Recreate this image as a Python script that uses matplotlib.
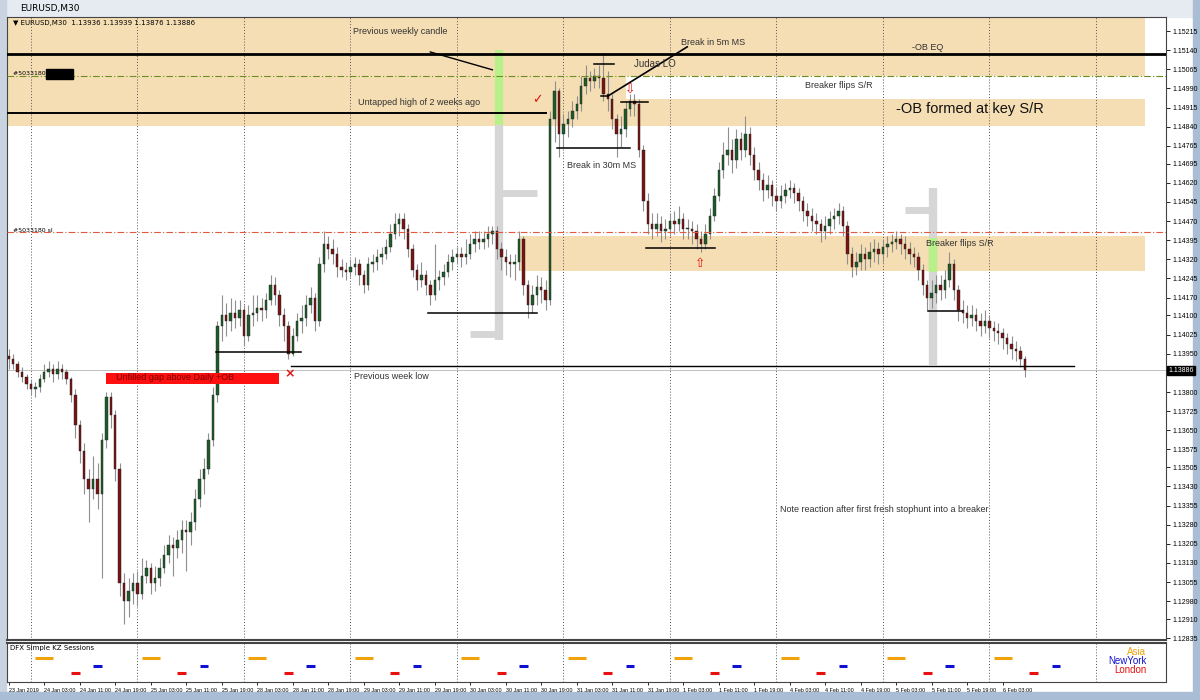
import matplotlib
matplotlib.use('Agg')
import matplotlib.pyplot as plt
from matplotlib.patches import Rectangle

plt.rcParams['font.family'] = ['Liberation Sans', 'DejaVu Sans']

# EURUSD candles, one per hour (23 Jan 19:00 -> 6 Feb 04:00)
first_open = 1.1394
closes = [
    1.1393, 1.1391, 1.1388, 1.1386, 1.1383, 1.1381, 1.1382, 1.1385, 1.1388, 1.1389,
    1.1387, 1.1389, 1.1388, 1.1385, 1.1379, 1.1367, 1.1357, 1.1346, 1.1342, 1.1346,
    1.1340, 1.1361, 1.1378, 1.1371, 1.1350, 1.1305, 1.1298, 1.1302, 1.1305, 1.1301,
    1.1308, 1.1311, 1.1305, 1.1307, 1.1311, 1.1316, 1.1320, 1.1319, 1.1322, 1.1326,
    1.1325, 1.1329, 1.1338, 1.1346, 1.1350, 1.1361, 1.1379, 1.1406, 1.1410, 1.1408,
    1.1411, 1.1409, 1.1412, 1.1402, 1.1410, 1.1411, 1.1413, 1.1412, 1.1416, 1.1422,
    1.1418, 1.1410, 1.1406, 1.1395, 1.1402, 1.1408, 1.1409, 1.1414, 1.1417, 1.1408,
    1.1430, 1.1438, 1.1436, 1.1434, 1.1429, 1.1428, 1.1427, 1.1429, 1.1430, 1.1426,
    1.1422, 1.1430, 1.1431, 1.1433, 1.1434, 1.1437, 1.1442, 1.1446, 1.1448, 1.1444,
    1.1436, 1.1428, 1.1424, 1.1426, 1.1422, 1.1418, 1.1424, 1.1425, 1.1427, 1.1431,
    1.1433, 1.1434, 1.1433, 1.1434, 1.1438, 1.1440, 1.1439, 1.1440, 1.1442, 1.1443,
    1.1436, 1.1433, 1.1431, 1.1430, 1.1431, 1.1440, 1.1422, 1.1414, 1.1418, 1.1421,
    1.1420, 1.1416, 1.1487, 1.1498, 1.1481, 1.1485, 1.1487, 1.1490, 1.1493, 1.1500,
    1.1503, 1.1502, 1.1504, 1.1503, 1.1497, 1.1495, 1.1487, 1.1481, 1.1483, 1.1491,
    1.1494, 1.1493, 1.1475, 1.1455, 1.1446, 1.1444, 1.1446, 1.1443, 1.1444, 1.1447,
    1.1446, 1.1448, 1.1444, 1.1444, 1.1443, 1.1440, 1.1438, 1.1442, 1.1449, 1.1457,
    1.1467, 1.1473, 1.1475, 1.1471, 1.1479, 1.1475, 1.1481, 1.1473, 1.1467, 1.1463,
    1.1459, 1.1461, 1.1457, 1.1455, 1.1457, 1.1459, 1.1460, 1.1458, 1.1455, 1.1451,
    1.1449, 1.1447, 1.1446, 1.1443, 1.1445, 1.1448, 1.1449, 1.1451, 1.1445, 1.1434,
    1.1429, 1.1431, 1.1434, 1.1432, 1.1435, 1.1436, 1.1434, 1.1437, 1.1438, 1.1439,
    1.1440, 1.1438, 1.1436, 1.1434, 1.1433, 1.1428, 1.1422, 1.1417, 1.1419, 1.1422,
    1.1420, 1.1424, 1.1430, 1.1420, 1.1412, 1.1411, 1.1409, 1.1410, 1.1408, 1.1406,
    1.1408, 1.1405, 1.1404, 1.1403, 1.1401, 1.1399, 1.1397, 1.1396, 1.1393, 1.13886,
]
highs = [
    1.1397, 1.1395, 1.1392, 1.1390, 1.1387, 1.1385, 1.1384, 1.1387, 1.1391, 1.1392,
    1.1391, 1.1392, 1.1391, 1.1389, 1.1386, 1.1381, 1.1369, 1.1360, 1.1350, 1.1355,
    1.1352, 1.1364, 1.1380, 1.1380, 1.1373, 1.1352, 1.1309, 1.1307, 1.1309, 1.1310,
    1.1315, 1.1314, 1.1313, 1.1312, 1.1315, 1.1320, 1.1324, 1.1323, 1.1326, 1.1330,
    1.1330, 1.1333, 1.1342, 1.1350, 1.1354, 1.1364, 1.1382, 1.1408, 1.1418, 1.1415,
    1.1417, 1.1416, 1.1416, 1.1414, 1.1414, 1.1418, 1.1418, 1.1417, 1.1419, 1.1426,
    1.1425, 1.1420, 1.1413, 1.1408, 1.1405, 1.1411, 1.1414, 1.1418, 1.1421, 1.1419,
    1.1433, 1.1443, 1.1441, 1.1440, 1.1437, 1.1432, 1.1431, 1.1432, 1.1433, 1.1432,
    1.1428, 1.1433, 1.1434, 1.1436, 1.1437, 1.1440, 1.1446, 1.1450, 1.1450, 1.1450,
    1.1446, 1.1438, 1.1430, 1.1431, 1.1428, 1.1424, 1.1438, 1.1428, 1.1430, 1.1434,
    1.1436, 1.1437, 1.1437, 1.1440, 1.1442, 1.1443, 1.1443, 1.1443, 1.1445, 1.1445,
    1.1445, 1.1439, 1.1436, 1.1434, 1.1434, 1.1443, 1.1441, 1.1424, 1.1422, 1.1426,
    1.1425, 1.1424, 1.1490, 1.1502, 1.1499, 1.1489, 1.1490, 1.1494, 1.1496, 1.1504,
    1.1508, 1.1506, 1.1507, 1.1508, 1.1513, 1.1506, 1.1497, 1.1489, 1.1488, 1.1494,
    1.1497, 1.1497, 1.1495, 1.1477, 1.1458, 1.1450, 1.1450, 1.1449, 1.1448, 1.1450,
    1.1451, 1.1453, 1.1450, 1.1448, 1.1447, 1.1446, 1.1443, 1.1446, 1.1452, 1.1460,
    1.1470, 1.1478, 1.1484, 1.1479, 1.1483, 1.1482, 1.1488, 1.1484, 1.1476, 1.1470,
    1.1466, 1.1465, 1.1463, 1.1460, 1.1461, 1.1462, 1.1463, 1.1462, 1.1460, 1.1457,
    1.1454, 1.1452, 1.1450, 1.1448, 1.1449, 1.1451, 1.1452, 1.1454, 1.1453, 1.1447,
    1.1437, 1.1435, 1.1438, 1.1437, 1.1439, 1.1440, 1.1439, 1.1440, 1.1441, 1.1442,
    1.1443, 1.1442, 1.1441, 1.1439, 1.1437, 1.1435, 1.1430, 1.1424, 1.1424, 1.1426,
    1.1426, 1.1428, 1.1435, 1.1432, 1.1422, 1.1416, 1.1414, 1.1414, 1.1413, 1.1411,
    1.1412, 1.1410, 1.1408, 1.1407, 1.1405, 1.1403, 1.1402, 1.1400, 1.1398, 1.1394,
]
lows = [
    1.1389, 1.1389, 1.1386, 1.1384, 1.1381, 1.1379, 1.1378, 1.1380, 1.1384, 1.1386,
    1.1384, 1.1385, 1.1385, 1.1383, 1.1376, 1.1362, 1.1352, 1.1340, 1.1329, 1.1338,
    1.1334, 1.1307, 1.1358, 1.1366, 1.1345, 1.1300, 1.1289, 1.1292, 1.1297, 1.1296,
    1.1299, 1.1305, 1.1301, 1.1302, 1.1304, 1.1309, 1.1313, 1.1308, 1.1315, 1.1317,
    1.1310, 1.1320, 1.1326, 1.1335, 1.1340, 1.1348, 1.1359, 1.1376, 1.1400, 1.1402,
    1.1404, 1.1405, 1.1406, 1.1398, 1.1400, 1.1406, 1.1408, 1.1408, 1.1409, 1.1414,
    1.1414, 1.1406, 1.1400, 1.1393, 1.1394, 1.1400, 1.1403, 1.1406, 1.1411, 1.1404,
    1.1406, 1.1427, 1.1432, 1.1430, 1.1425, 1.1425, 1.1424, 1.1425, 1.1426, 1.1422,
    1.1419, 1.1420, 1.1427, 1.1428, 1.1430, 1.1432, 1.1435, 1.1440, 1.1441, 1.1440,
    1.1433, 1.1425, 1.1420, 1.1421, 1.1418, 1.1414, 1.1416, 1.1420, 1.1422, 1.1425,
    1.1428, 1.1430, 1.1429, 1.1430, 1.1432, 1.1435, 1.1436, 1.1436, 1.1437, 1.1438,
    1.1432, 1.1428, 1.1426, 1.1425, 1.1424, 1.1428, 1.1418, 1.1409, 1.1411, 1.1414,
    1.1415, 1.1412, 1.1414, 1.1478, 1.1472, 1.1476, 1.1480, 1.1484, 1.1487, 1.1490,
    1.1497, 1.1498, 1.1499, 1.1499, 1.1494, 1.1490, 1.1483, 1.1472, 1.1476, 1.1480,
    1.1488, 1.1488, 1.1472, 1.1451, 1.1442, 1.1440, 1.1441, 1.1439, 1.1440, 1.1441,
    1.1442, 1.1443, 1.1440, 1.1440, 1.1438, 1.1436, 1.1435, 1.1436, 1.1440, 1.1447,
    1.1455, 1.1464, 1.1469, 1.1466, 1.1468, 1.1471, 1.1472, 1.1469, 1.1463, 1.1459,
    1.1455, 1.1456, 1.1453, 1.1451, 1.1452, 1.1454, 1.1456, 1.1454, 1.1451, 1.1447,
    1.1445, 1.1443, 1.1442, 1.1439, 1.1440, 1.1442, 1.1444, 1.1446, 1.1441, 1.1430,
    1.1425, 1.1426, 1.1428, 1.1428, 1.1429, 1.1431, 1.1430, 1.1431, 1.1433, 1.1435,
    1.1436, 1.1434, 1.1432, 1.1430, 1.1429, 1.1424, 1.1418, 1.1412, 1.1413, 1.1415,
    1.1416, 1.1417, 1.1421, 1.1416, 1.1408, 1.1407, 1.1405, 1.1406, 1.1404, 1.1402,
    1.1403, 1.1401, 1.1400, 1.1399, 1.1397, 1.1395, 1.1393, 1.1392, 1.1390, 1.1386,
]

time_labels = ['23 Jan 2019', '24 Jan 03:00', '24 Jan 11:00', '24 Jan 19:00', '25 Jan 03:00',
               '25 Jan 11:00', '25 Jan 19:00', '28 Jan 03:00', '28 Jan 11:00', '28 Jan 19:00',
               '29 Jan 03:00', '29 Jan 11:00', '29 Jan 19:00', '30 Jan 03:00', '30 Jan 11:00',
               '30 Jan 19:00', '31 Jan 03:00', '31 Jan 11:00', '31 Jan 19:00', '1 Feb 03:00',
               '1 Feb 11:00', '1 Feb 19:00', '4 Feb 03:00', '4 Feb 11:00', '4 Feb 19:00',
               '5 Feb 03:00', '5 Feb 11:00', '5 Feb 19:00', '6 Feb 03:00']
price_ticks = [1.15215, 1.15140, 1.15065, 1.14990, 1.14915, 1.14840, 1.14765, 1.14695,
               1.14620, 1.14545, 1.14470, 1.14395, 1.14320, 1.14245, 1.14170, 1.14100,
               1.14025, 1.13950, 1.13800, 1.13725, 1.13650, 1.13575, 1.13505, 1.13430,
               1.13355, 1.13280, 1.13205, 1.13130, 1.13055, 1.12980, 1.12910, 1.12835]

# day separators (midnight, in hourly bar index)
day_starts = [5, 29, 53, 77, 101, 125, 149, 173, 197, 221, 245]

# drawn levels / zones
ob_eq = 1.15125
sell_level = 1.15039
untapped_high = 1.14894
sl_level = 1.14428
prev_week_low = 1.13902
last_price = 1.13886
ob_zone = (1.14843, 1.15270)
breaker_zone = (1.14275, 1.14412)
white_gap = (1.14949, 1.15039)

# killzone sessions: name, colour, start/end hour after midnight
sessions = [('Asia', '#f0a30a', 1, 5, 0.62),
            ('NewYork', '#1010d0', 14, 16, 0.42),
            ('London', '#e81010', 9, 11, 0.22)]

fig = plt.figure(figsize=(12, 7), dpi=100)
fig.patch.set_facecolor('white')

def frect(x0, y0, x1, y1, color):
    fig.add_artist(Rectangle((x0 / 1200, 1 - y1 / 700), (x1 - x0) / 1200, (y1 - y0) / 700,
                             transform=fig.transFigure, color=color, zorder=0))

# window chrome
frect(0, 0, 1200, 17, '#e6ebf1')
frect(0, 0, 6, 700, '#c9d4e0')
frect(1193, 0, 1200, 700, '#a9bdd4')
frect(0, 692, 1200, 700, '#a9bdd4')
fig.text(20 / 1200, 1 - 9 / 700, 'EURUSD,M30', fontsize=6.5, va='center', family='DejaVu Sans')

ax = fig.add_axes([7 / 1200, 60 / 700, 1159 / 1200, 623 / 700])
ind = fig.add_axes([7 / 1200, 18 / 700, 1159 / 1200, 39 / 700])

xmin, xmax = -0.4, 260.8
ax.set_xlim(xmin, xmax)
ax.set_ylim(1.12828, 1.15270)

# zones
ax.axhspan(ob_zone[0], ob_zone[1], xmin=0, xmax=(256 - xmin) / (xmax - xmin), color='#f5deb3', lw=0, zorder=0)
ax.fill_between([139, 256], white_gap[0], white_gap[1], color='white', lw=0, zorder=0.5)
ax.fill_between([115, 256], breaker_zone[0], breaker_zone[1], color='#f5deb3', lw=0, zorder=0.5)

for d in day_starts:
    ax.axvline(d, color='#555555', lw=0.7, ls=(0, (1, 2)), zorder=0.6)
    ind.axvline(d, color='#555555', lw=0.7, ls=(0, (1, 2)), zorder=0.6)

# previous weekly candles
ax.plot([110.4, 110.4], [1.14004, 1.14847], color='#d6d6d6', lw=6, solid_capstyle='butt', zorder=1)
ax.plot([110.4, 110.4], [1.14847, 1.15141], color='#b8f08a', lw=6, solid_capstyle='butt', zorder=1)
ax.plot([104, 110.4], [1.14028, 1.14028], color='#d6d6d6', lw=5, solid_capstyle='butt', zorder=1)
ax.plot([110.4, 119], [1.14581, 1.14581], color='#d6d6d6', lw=5, solid_capstyle='butt', zorder=1)
ax.plot([208.3, 208.3], [1.13906, 1.14600], color='#d6d6d6', lw=6, solid_capstyle='butt', zorder=1)
ax.plot([208.3, 208.3], [1.14270, 1.14404], color='#b8f08a', lw=6, solid_capstyle='butt', zorder=1)
ax.plot([202, 208.3], [1.14514, 1.14514], color='#d6d6d6', lw=5, solid_capstyle='butt', zorder=1)

# horizontal levels
ax.axhline(ob_eq, color='black', lw=2, zorder=4)
ax.axhline(sell_level, color='#6b8e23', lw=0.8, ls=(0, (6, 2, 1, 2)), zorder=4)
ax.axhline(sl_level, color='#e05a40', lw=0.8, ls=(0, (6, 2, 1, 2)), zorder=4)
ax.axhline(last_price, color='#c0c0c0', lw=0.7, zorder=0.7)
ax.plot([-0.4, 121], [untapped_high] * 2, color='black', lw=1.4, zorder=4)
ax.plot([63.5, 240], [prev_week_low] * 2, color='black', lw=1.0, zorder=4)

# candles
opens = [first_open] + closes[:-1]
idx = list(range(len(closes)))
ax.vlines(idx, lows, highs, color='#8f8f8f', lw=0.8, zorder=2)
bottoms = [min(o, c) for o, c in zip(opens, closes)]
heights = [max(abs(c - o), 0.00003) for o, c in zip(opens, closes)]
cols = ['#1d5c2a' if c >= o else '#7a1414' for o, c in zip(opens, closes)]
ax.bar(idx, heights, bottom=bottoms, width=0.55, color=cols, edgecolor='#222222',
       linewidth=0.3, zorder=3)

# structure markers
for xs, y in [((46.6, 65.8), 1.13957), ((94.4, 119.1), 1.14110), ((123.6, 140.1), 1.14757),
              ((143.5, 159.2), 1.14365), ((207.2, 214.9), 1.14118), ((138, 144), 1.14937),
              ((132, 136.3), 1.15086), ((133.5, 135.1), 1.14961)]:
    ax.plot(xs, [y, y], color='black', lw=1.1, zorder=4)
ax.plot([95, 109], [1.15133, 1.15063], color='black', lw=1.0, zorder=4)
ax.plot([135.1, 152.9], [1.14961, 1.15153], color='black', lw=1.2, zorder=4)

# gap box
ax.add_patch(Rectangle((21.8, 1.13832), 39, 0.00043, color='#ff1010', lw=0, zorder=4))
ax.text(24.1, 1.13855, 'Unfilled gap above Daily +OB', fontsize=6.5, color='#7a0000', va='center', zorder=5)

# labels
tc = '#333333'
ax.text(0.9, 1.15247, '\u25bc EURUSD,M30  1.13936 1.13939 1.13876 1.13886', fontsize=5,
        va='center', family='DejaVu Sans', zorder=5)
ax.text(0.9, 1.15047, '#5033180 sell', fontsize=4.5, va='center', family='DejaVu Sans', zorder=5)
ax.add_patch(Rectangle((8.3, 1.15028), 6.1, 0.00039, color='black', zorder=5))
ax.text(0.9, 1.14435, '#5033180 sl', fontsize=4.5, va='center', family='DejaVu Sans', zorder=5)
ax.text(77.5, 1.15212, 'Previous weekly candle', fontsize=6.5, color=tc, va='center', zorder=5)
ax.text(78.6, 1.14933, 'Untapped high of 2 weeks ago', fontsize=6.5, color=tc, va='center', zorder=5)
ax.text(141, 1.15086, 'Judas LO', fontsize=7, color=tc, va='center', zorder=5)
ax.text(151.4, 1.15172, 'Break in 5m MS', fontsize=6.5, color=tc, va='center', zorder=5)
ax.text(125.9, 1.14686, 'Break in 30m MS', fontsize=6.5, color=tc, va='center', zorder=5)
ax.text(179.5, 1.15000, 'Breaker flips S/R', fontsize=6.5, color=tc, va='center', zorder=5)
ax.text(203.6, 1.15149, '-OB EQ', fontsize=6.5, color=tc, va='center', zorder=5)
ax.text(200, 1.14910, '-OB formed at key S/R', fontsize=10.5, color='#111111', va='center', zorder=5)
ax.text(206.8, 1.14384, 'Breaker flips S/R', fontsize=6.5, color=tc, va='center', zorder=5)
ax.text(77.7, 1.13859, 'Previous week low', fontsize=6.5, color=tc, va='center', zorder=5)
ax.text(173.9, 1.13338, 'Note reaction after first fresh stophunt into a breaker', fontsize=6.5,
        color=tc, va='center', zorder=5)
ax.text(119.1, 1.14945, '\u2713', fontsize=9, color='#e01010', ha='center', va='center',
        family='DejaVu Sans', zorder=5)
ax.text(63.3, 1.13871, '\u00d7', fontsize=9, color='#e01010', ha='center', va='center',
        family='DejaVu Sans', fontweight='bold', zorder=5)
ax.text(140.1, 1.14984, '\u21e9', fontsize=9, color='#e01010', ha='center', va='center',
        family='DejaVu Sans', zorder=5)
ax.text(155.9, 1.14302, '\u21e7', fontsize=9, color='#e01010', ha='center', va='center',
        family='DejaVu Sans', zorder=5)

# price axis
ax.yaxis.tick_right()
ax.set_yticks(price_ticks)
ax.set_yticklabels(['%.5f' % p for p in price_ticks], fontsize=5)
ax.tick_params(axis='y', length=3, pad=1.5, width=0.6)
ax.set_xticks([])
ax.text(1.002, last_price, '%.5f' % last_price, transform=ax.get_yaxis_transform(), fontsize=5,
        color='white', va='center',
        bbox=dict(boxstyle='square,pad=0.15', fc='black', ec='black'), zorder=6, clip_on=False)
for s in ax.spines.values():
    s.set_color('#444444')
    s.set_linewidth(0.8)
ax.spines['bottom'].set_linewidth(1.5)

# sessions panel
ind.set_xlim(xmin, xmax)
ind.set_ylim(0, 1)
for name, col, t0, t1, yy in sessions:
    for d in day_starts[:-1]:
        ind.plot([d + t0, d + t1], [yy, yy], color=col, lw=2.2, solid_capstyle='butt')
ind.text(0.003, 0.86, 'DFX Simple KZ Sessions', transform=ind.transAxes, fontsize=5,
         family='DejaVu Sans', va='center')
for name, col, t0, t1, yy in sessions:
    ypos = {'Asia': 0.77, 'NewYork': 0.54, 'London': 0.31}[name]
    ind.text(0.983, ypos, name, transform=ind.transAxes, fontsize=7, color=col, ha='right', va='center')
ind.set_yticks([])
ind.set_xticks([8 * k for k in range(len(time_labels))])
ind.set_xticklabels(time_labels, fontsize=3.9, ha='left')
ind.tick_params(axis='x', length=2, pad=2, width=0.6)
for s in ind.spines.values():
    s.set_color('#444444')
    s.set_linewidth(0.8)
ind.spines['top'].set_linewidth(1.5)

plt.savefig('out.png', dpi=100)
